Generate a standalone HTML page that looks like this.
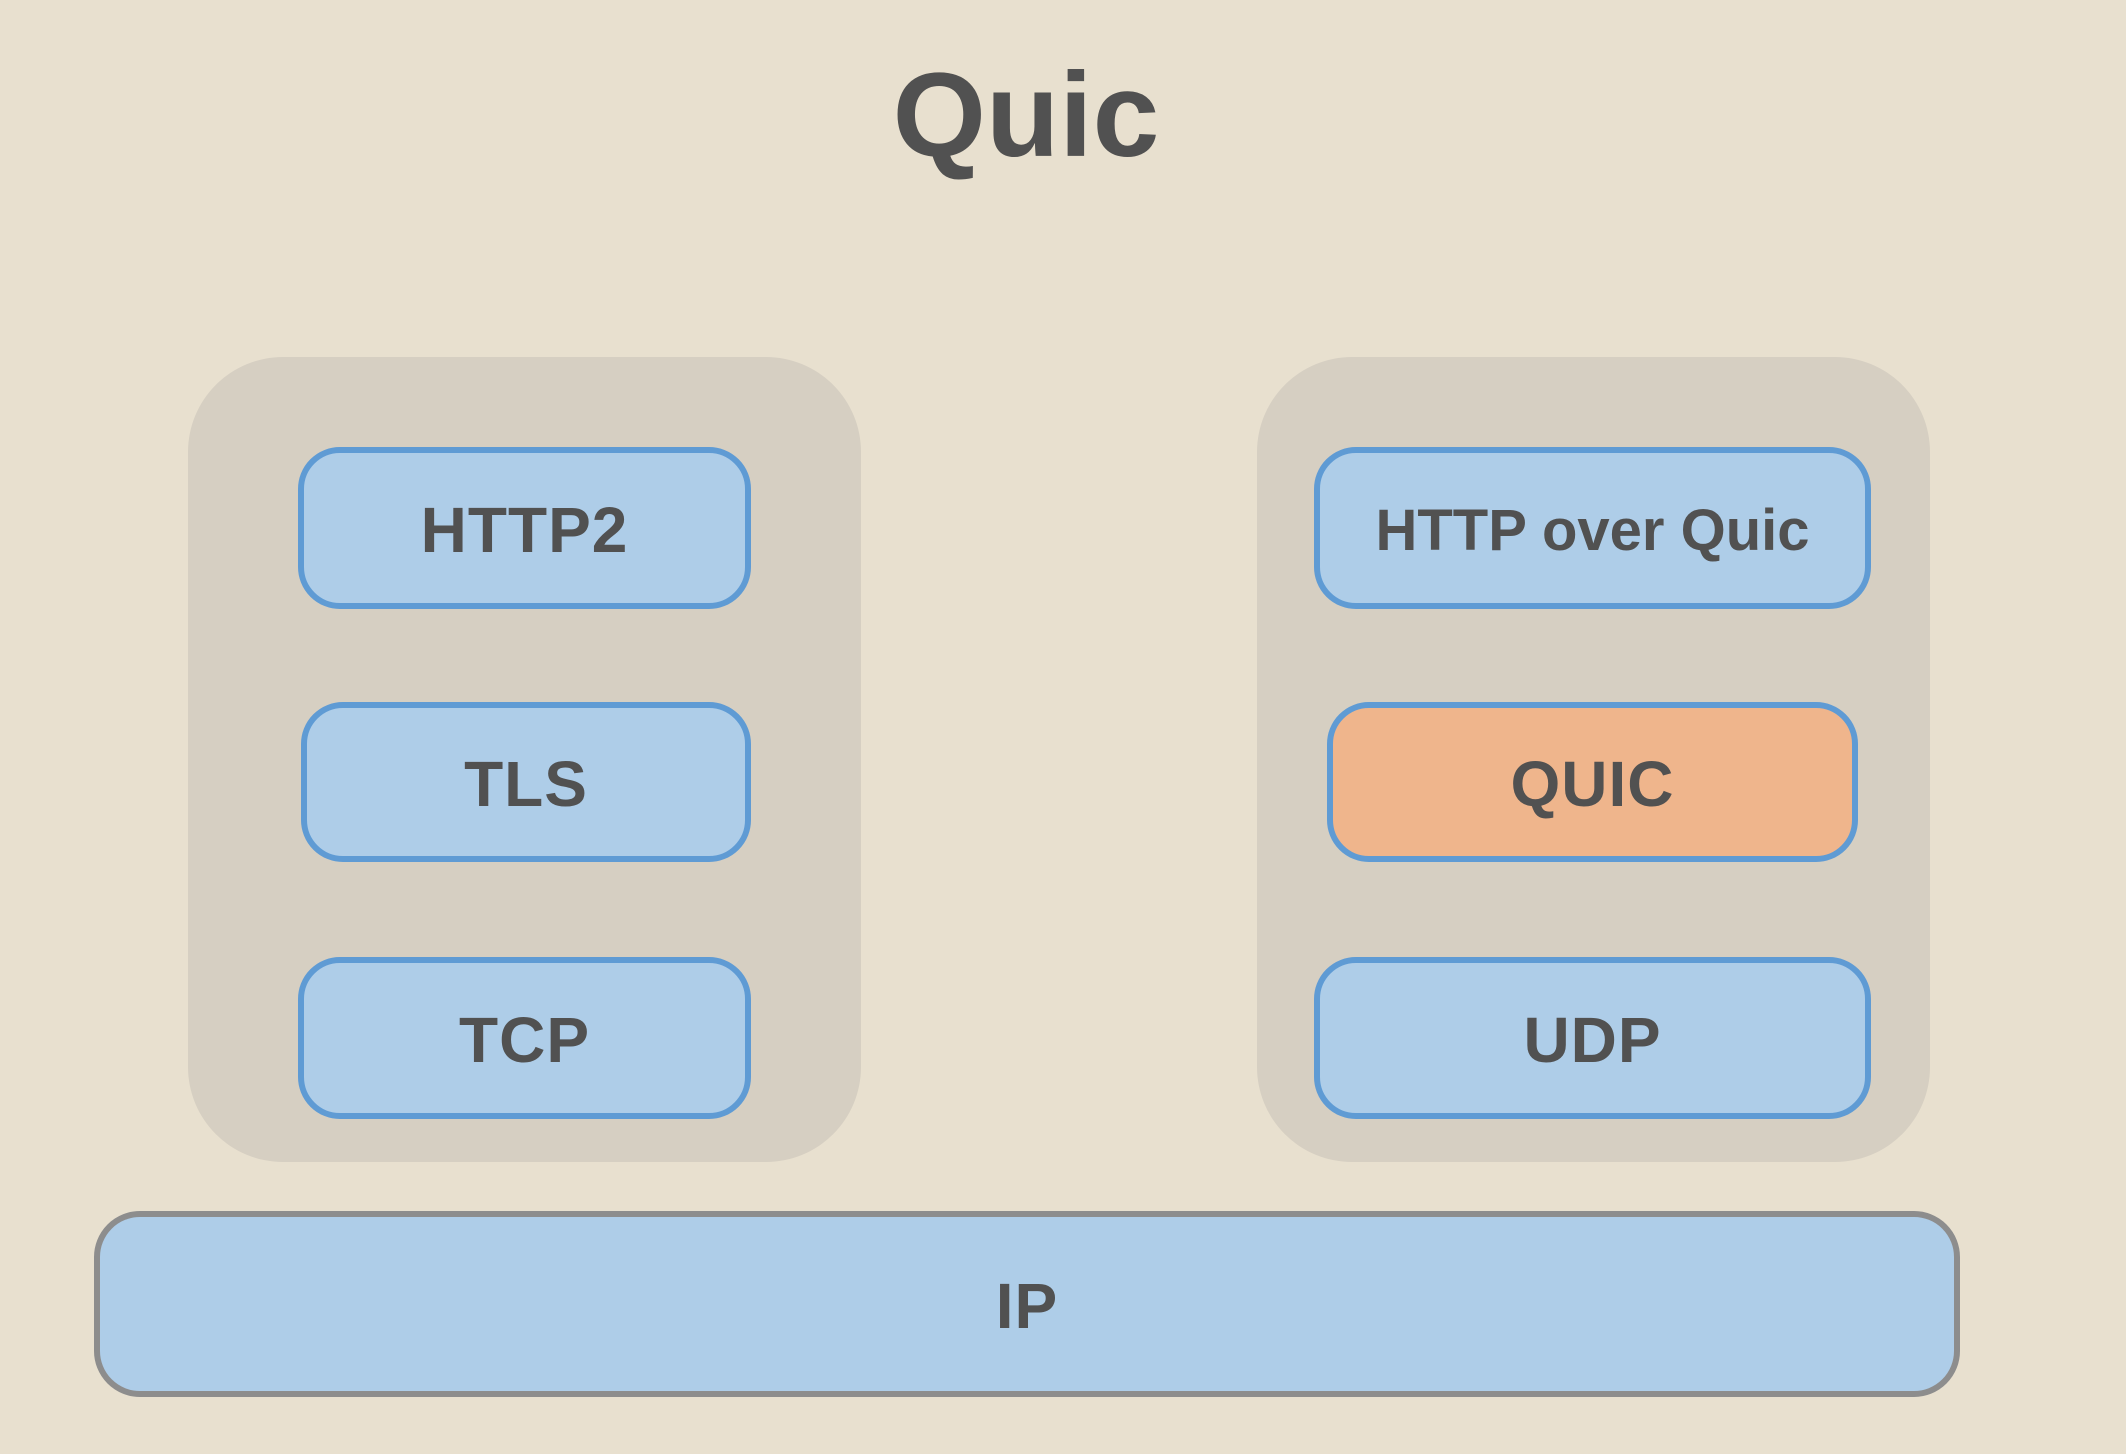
<!DOCTYPE html>
<html><head><meta charset="utf-8"><style>
html,body{margin:0;padding:0}
body{width:2126px;height:1454px;background:#e8e0cf;position:relative;overflow:hidden;font-family:"Liberation Sans",sans-serif;color:#515151;font-weight:bold}
.c{position:absolute;background:#d6cfc2;border-radius:95px}
.b{position:absolute;box-sizing:border-box;background:#aecde8;border:6px solid #5f9bd4;border-radius:42px;display:flex;align-items:center;justify-content:center;font-size:64px;letter-spacing:1px;padding-top:4px}
.t{position:absolute;left:0;width:2052px;text-align:center;top:46px;font-size:120px}
</style></head><body>
<div class="t">Quic</div>
<div class="c" style="left:188px;top:357px;width:673px;height:805px"></div>
<div class="c" style="left:1257px;top:357px;width:673px;height:805px"></div>
<div class="b" style="left:298px;top:447px;width:453px;height:162px">HTTP2</div>
<div class="b" style="left:301px;top:702px;width:450px;height:160px">TLS</div>
<div class="b" style="left:298px;top:957px;width:453px;height:162px">TCP</div>
<div class="b" style="left:1314px;top:447px;width:557px;height:162px;font-size:58px;letter-spacing:0">HTTP over Quic</div>
<div class="b" style="left:1327px;top:702px;width:531px;height:160px;background:#efb58c">QUIC</div>
<div class="b" style="left:1314px;top:957px;width:557px;height:162px">UDP</div>
<div class="b" style="left:94px;top:1211px;width:1866px;height:186px;border-color:#8d8d8d;border-width:6px;border-radius:46px">IP</div>
</body></html>
